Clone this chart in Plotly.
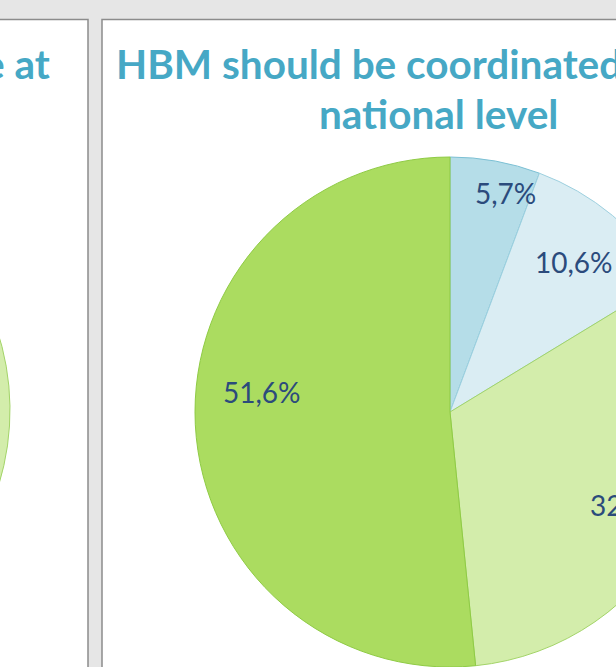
import math
import plotly.graph_objects as go

# ---- data ----
right_title_lines = ["HBM should be coordinated at", "national level"]
categories = ["Strongly disagree", "Disagree", "Agree", "Strongly agree"]
right_values = [5.7, 10.6, 32.1, 51.6]
left_title = "HBM should take place at"
left_values = [6.0, 10.0, 40.0, 44.0]

slice_colors = ["#b5dde8", "#daedf3", "#d3edab", "#abdc60"]
slice_lines = ["#7cc0d4", "#9dd0df", "#a3d468", "#8fcb45"]
# label placement (style): radius fraction and angular nudge in degrees
label_r = [0.885, 0.765, 0.79, 0.74]
label_dtheta = [4, 0, 1, 9]

# ---- layout geometry (pixels) ----
W, H = 1300, 700
SHIFT = 520            # figure is shifted left inside the window
R = 255
right_c = (450, 412)   # window coords
left_c = (-245, 410)

px = lambda x: (x + SHIFT) / W
py = lambda y: 1 - y / H


def domain(c):
    cx, cy = c
    return dict(x=[px(cx - R), px(cx + R)], y=[py(cy + R), py(cy - R)])


def fmt(v):
    return f"{v:.1f}".replace(".", ",") + "%"


fig = go.Figure()
for vals, c, show in [(left_values, left_c, False), (right_values, right_c, True)]:
    fig.add_trace(go.Pie(
        labels=categories, values=vals, sort=False, direction="clockwise",
        rotation=0, domain=domain(c), textinfo="none",
        marker=dict(colors=slice_colors, line=dict(color=slice_lines, width=1)),
        showlegend=False, hoverinfo="label+percent",
    ))

shapes = [
    dict(type="rect", xref="paper", yref="paper", x0=0, x1=px(88), y0=py(H), y1=py(19.5),
         fillcolor="white", line=dict(color="#8c8c8c", width=1.5), layer="below"),
    dict(type="rect", xref="paper", yref="paper", x0=px(102), x1=1.2, y0=py(H + 10), y1=py(19.5),
         fillcolor="white", line=dict(color="#8c8c8c", width=1.5), layer="below"),
]

title_font = dict(family="Lato", size=40.5, color="#46a8c5", weight="bold")
annotations = [
    dict(text=right_title_lines[0], xref="paper", yref="paper", x=px(114), y=py(36.5),
         xanchor="left", yanchor="top", showarrow=False, font=title_font),
    dict(text=right_title_lines[1], xref="paper", yref="paper", x=px(438), y=py(86.5),
         xanchor="center", yanchor="top", showarrow=False, font=title_font),
    dict(text=left_title, xref="paper", yref="paper", x=px(52), y=py(36.5),
         xanchor="right", yanchor="top", showarrow=False, font=title_font),
]

# data labels placed from the slice angles of the right pie
total = sum(right_values)
cum = 0.0
for v, rf, dt in zip(right_values, label_r, label_dtheta):
    mid = (cum + v / 2) / total * 360 + dt
    cum += v
    x = right_c[0] + rf * R * math.sin(math.radians(mid))
    y = right_c[1] - rf * R * math.cos(math.radians(mid))
    annotations.append(dict(text=fmt(v), xref="paper", yref="paper", x=px(x), y=py(y),
                            xanchor="center", yanchor="middle", showarrow=False,
                            font=dict(family="Lato", size=28, color="#2b4b7c")))

fig.update_layout(
    width=W, height=H, margin=dict(l=0, r=0, t=0, b=0),
    paper_bgcolor="#e6e6e6", plot_bgcolor="#e6e6e6",
    shapes=shapes, annotations=annotations,
)

post = ("var d=document.getElementById('{plot_id}');"
        "document.body.style.margin='0';document.body.style.overflow='hidden';"
        "d.style.position='absolute';d.style.left='-%dpx';d.style.top='0px';" % SHIFT)
fig.write_html("out.html", post_script=post)
